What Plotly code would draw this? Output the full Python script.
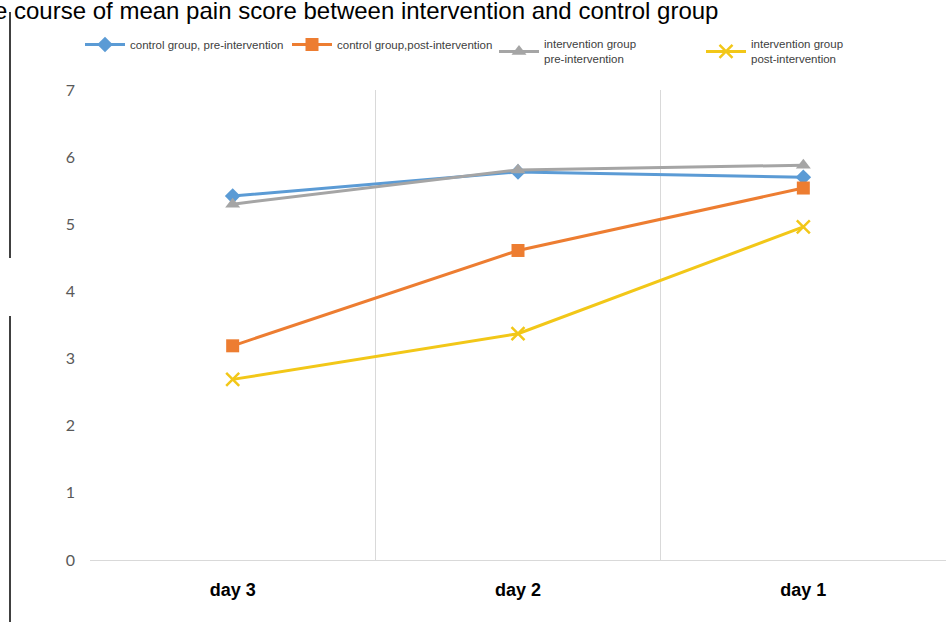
import plotly.graph_objects as go

days = ["day 3", "day 2", "day 1"]
control_pre = [5.42, 5.78, 5.70]
control_post = [3.19, 4.61, 5.54]
interv_pre = [5.30, 5.81, 5.88]
interv_post = [2.69, 3.37, 4.96]

series_names = [
    "control group, pre-intervention",
    "control group,post-intervention",
    "intervention group<br>pre-intervention",
    "intervention group<br>post-intervention",
]
colors = ["#5b9bd5", "#ed7d31", "#a5a5a5", "#f2c718"]
y_ticks = [0, 1, 2, 3, 4, 5, 6, 7]

W, H = 948, 622
ML, MR, MT, MB = 90, 2, 90, 62
PW, PH = W - ML - MR, H - MT - MB

def px_x(px):
    return (px - ML) / PW

def px_y(py):
    return (H - MB - py) / PH

fig = go.Figure()
symbols = [
    dict(symbol="diamond", size=12),
    dict(symbol="square", size=13),
    dict(symbol="triangle-up", size=13),
    dict(symbol="x-thin-open", size=13, line=dict(width=2.5, color=colors[3])),
]
for vals, name, col, sym in zip([control_pre, control_post, interv_pre, interv_post],
                                series_names, colors, symbols):
    m = dict(color=col, **sym)
    fig.add_trace(go.Scatter(x=days, y=vals, name=name, mode="lines+markers",
                             line=dict(color=col, width=3), marker=m))

fig.update_layout(
    width=W, height=H,
    margin=dict(l=ML, r=MR, t=MT, b=MB),
    paper_bgcolor="white", plot_bgcolor="white",
    showlegend=True,
    legend=dict(orientation="h", x=px_x(80), y=px_y(30), xanchor="left", yanchor="top",
                entrywidth=152, entrywidthmode="pixels", tracegroupgap=0,
                font=dict(family="Liberation Sans Narrow, Liberation Sans, Arial", size=11.5, color="#404040"),
                bgcolor="rgba(0,0,0,0)", itemwidth=40),
    xaxis=dict(type="category", categoryorder="array", categoryarray=days,
               range=[-0.5, 2.5], showgrid=True, tickson="boundaries",
               gridcolor="#d9d9d9", gridwidth=1, showline=True, linecolor="#d9d9d9",
               ticks="", ticklabelstandoff=13,
               tickfont=dict(family="Liberation Sans Narrow, Liberation Sans, Arial", size=18, color="black", weight="bold")),
    yaxis=dict(range=[0, 7], tickvals=y_ticks, showgrid=False, zeroline=False,
               showline=False, ticks="", ticklabelstandoff=14,
               tickfont=dict(family="Lato, Open Sans, sans-serif", size=16, color="#595959")),
    annotations=[dict(text="The course of mean pain score between intervention and control group",
                      xref="paper", yref="paper", x=px_x(-36), y=px_y(-5),
                      xanchor="left", yanchor="top", showarrow=False,
                      font=dict(family="Liberation Sans, Arial", size=24, color="black"))],
    shapes=[
        dict(type="line", xref="paper", yref="paper", x0=px_x(10), x1=px_x(10),
             y0=px_y(12), y1=px_y(258), line=dict(color="black", width=1.5)),
        dict(type="line", xref="paper", yref="paper", x0=px_x(10), x1=px_x(10),
             y0=px_y(316), y1=px_y(622), line=dict(color="black", width=1.5)),
    ],
)

fig.write_html("out.html")
